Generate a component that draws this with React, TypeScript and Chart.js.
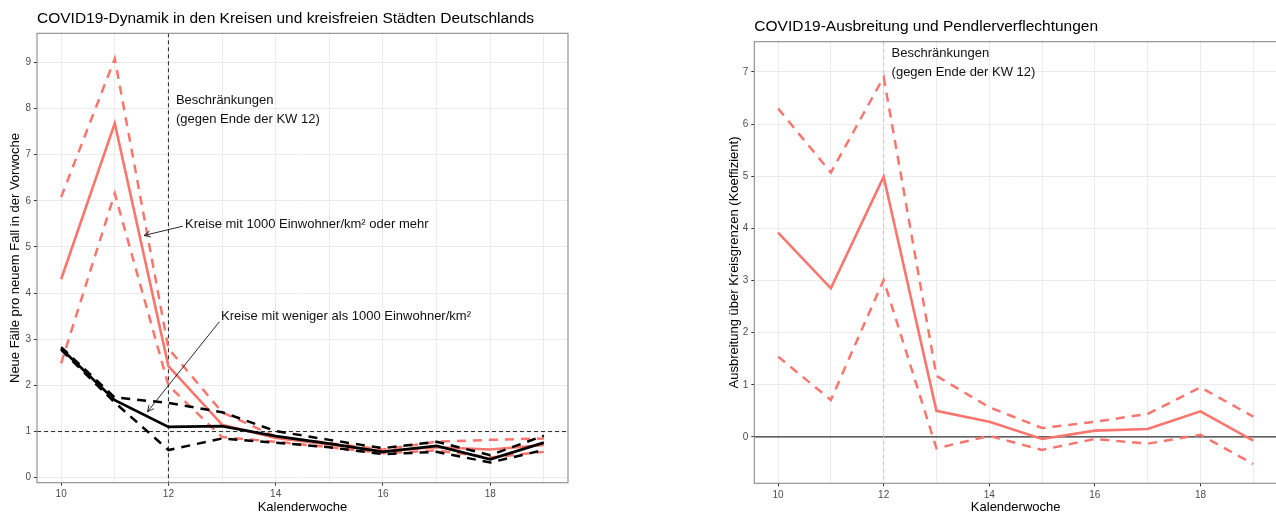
import React, { useEffect, useRef } from "react";
import { Chart, registerables } from "chart.js";

Chart.register(...registerables);

// ---------------- data ----------------
const weeks = [10, 11, 12, 13, 14, 15, 16, 17, 18, 19];

// left panel: dense districts (>= 1000 inhabitants / km²)
const denseMean = [4.3, 7.68, 2.42, 1.15, 0.86, 0.72, 0.58, 0.66, 0.61, 0.71];
const denseUpper = [6.08, 9.08, 2.8, 1.42, 0.89, 0.75, 0.61, 0.78, 0.82, 0.85];
const denseLower = [2.48, 6.16, 2.0, 0.88, 0.78, 0.66, 0.53, 0.59, 0.44, 0.56];

// left panel: less dense districts (< 1000 inhabitants / km²)
const sparseMean = [2.8, 1.68, 1.1, 1.12, 0.9, 0.74, 0.56, 0.69, 0.4, 0.76];
const sparseUpper = [2.83, 1.74, 1.62, 1.42, 1.01, 0.82, 0.64, 0.78, 0.49, 0.91];
const sparseLower = [2.77, 1.63, 0.6, 0.85, 0.76, 0.66, 0.51, 0.56, 0.33, 0.6];

// right panel: spread across district borders (coefficient)
const spreadMean = [3.92, 2.85, 4.99, 0.5, 0.29, -0.04, 0.12, 0.15, 0.49, -0.07];
const spreadUpper = [6.3, 5.07, 6.9, 1.17, 0.57, 0.17, 0.29, 0.44, 0.95, 0.39];
const spreadLower = [1.54, 0.71, 3.01, -0.22, 0.02, -0.25, -0.04, -0.13, 0.04, -0.52];

const xGridValues = [10, 11, 12, 13, 14, 15, 16, 17, 18, 19];
const xTickLabels = [10, 12, 14, 16, 18];
const leftYTicks = [0, 1, 2, 3, 4, 5, 6, 7, 8, 9];
const rightYTicks = [0, 1, 2, 3, 4, 5, 6, 7];

const leftTitle = "COVID19-Dynamik in den Kreisen und kreisfreien Städten Deutschlands";
const rightTitle = "COVID19-Ausbreitung und Pendlerverflechtungen";
const xTitle = "Kalenderwoche";
const leftYTitle = "Neue Fälle pro neuem Fall in der Vorwoche";
const rightYTitle = "Ausbreitung über Kreisgrenzen (Koeffizient)";
const restrictionText = ["Beschränkungen", "(gegen Ende der KW 12)"];
const denseLabel = "Kreise mit 1000 Einwohner/km² oder mehr";
const sparseLabel = "Kreise mit weniger als 1000 Einwohner/km²";

// ---------------- styles ----------------
const FONT = "'Liberation Sans', Arial, Helvetica, sans-serif";
const RED = "#F8766D";
const BLACK = "#000000";
const GRID = "#ebebeb";
const DASH = [9, 7];

const pts = (vals: number[]) => vals.map((v, i) => ({ x: weeks[i], y: v }));

type Ann = {
  title: string;
  vline: { x: number; color: string; dash: number[]; width: number };
  hline: { y: number; color: string; dash: number[]; width: number };
  texts: { x: number; y: number; text: string }[];
  arrows: { x0: number; y0: number; x1: number; y1: number }[];
};

function decorPlugin(ann: Ann) {
  return {
    id: "decor",
    beforeDatasetsDraw(chart: any) {
      const { ctx, chartArea: a, scales } = chart;
      const xs = scales.x;
      const ys = scales.y;
      ctx.save();
      ctx.beginPath();
      ctx.rect(a.left, a.top, a.right - a.left, a.bottom - a.top);
      ctx.clip();
      // horizontal reference
      ctx.strokeStyle = ann.hline.color;
      ctx.lineWidth = ann.hline.width;
      ctx.setLineDash(ann.hline.dash);
      const hy = ys.getPixelForValue(ann.hline.y);
      ctx.beginPath();
      ctx.moveTo(a.left, hy);
      ctx.lineTo(a.right, hy);
      ctx.stroke();
      // vertical reference
      ctx.strokeStyle = ann.vline.color;
      ctx.lineWidth = ann.vline.width;
      ctx.setLineDash(ann.vline.dash);
      const vx = xs.getPixelForValue(ann.vline.x);
      ctx.beginPath();
      ctx.moveTo(vx, a.top);
      ctx.lineTo(vx, a.bottom);
      ctx.stroke();
      ctx.restore();
    },
    afterDatasetsDraw(chart: any) {
      const { ctx, chartArea: a, scales } = chart;
      const xs = scales.x;
      const ys = scales.y;
      ctx.save();
      // panel border
      ctx.setLineDash([]);
      ctx.strokeStyle = "#8a8a8a";
      ctx.lineWidth = 1.1;
      ctx.strokeRect(a.left, a.top, a.right - a.left, a.bottom - a.top);
      // texts
      ctx.fillStyle = "#111";
      ctx.font = `13px ${FONT}`;
      ctx.textAlign = "left";
      ctx.textBaseline = "middle";
      ann.texts.forEach((t) => {
        ctx.fillText(t.text, xs.getPixelForValue(t.x), ys.getPixelForValue(t.y));
      });
      // arrows
      ctx.strokeStyle = "#111";
      ctx.lineWidth = 0.9;
      ann.arrows.forEach((ar) => {
        const x0 = xs.getPixelForValue(ar.x0);
        const y0 = ys.getPixelForValue(ar.y0);
        const x1 = xs.getPixelForValue(ar.x1);
        const y1 = ys.getPixelForValue(ar.y1);
        ctx.beginPath();
        ctx.moveTo(x0, y0);
        ctx.lineTo(x1, y1);
        ctx.stroke();
        const ang = Math.atan2(y1 - y0, x1 - x0);
        const L = 7;
        ctx.beginPath();
        ctx.moveTo(x1 - L * Math.cos(ang - 0.45), y1 - L * Math.sin(ang - 0.45));
        ctx.lineTo(x1, y1);
        ctx.lineTo(x1 - L * Math.cos(ang + 0.45), y1 - L * Math.sin(ang + 0.45));
        ctx.stroke();
      });
      // title
      ctx.fillStyle = "#000";
      ctx.font = `15.5px ${FONT}`;
      ctx.textBaseline = "middle";
      ctx.fillText(ann.title, a.left, a.top - 14.5);
      ctx.restore();
    },
  };
}

function makeConfig(opts: {
  datasets: any[];
  yMin: number;
  yMax: number;
  yTicks: number[];
  yTitle: string;
  yTitlePad: number;
  padding: { top: number; right: number; left: number; bottom: number };
  xAxisHeight: number;
  ann: Ann;
}) {
  const tickFont = { family: FONT, size: 10 };
  return {
    type: "line" as const,
    data: { datasets: opts.datasets },
    options: {
      animation: false as const,
      responsive: false,
      maintainAspectRatio: false,
      layout: { padding: opts.padding },
      plugins: { legend: { display: false }, tooltip: { enabled: false }, title: { display: false } },
      elements: { point: { radius: 0 }, line: { tension: 0 } },
      scales: {
        x: {
          type: "linear" as const,
          min: 9.55,
          max: 19.45,
          afterBuildTicks: (axis: any) => {
            axis.ticks = xGridValues.map((v) => ({ value: v }));
          },
          afterFit: (axis: any) => {
            axis.height = opts.xAxisHeight;
          },
          ticks: {
            autoSkip: false,
            maxRotation: 0,
            padding: 3,
            color: "#4d4d4d",
            font: tickFont,
            callback: (v: any) => (xTickLabels.includes(Number(v)) ? String(v) : ""),
          },
          grid: {
            color: GRID,
            lineWidth: 1,
            tickLength: 3,
            tickColor: (c: any) =>
              c.tick && xTickLabels.includes(c.tick.value) ? "#333" : "rgba(0,0,0,0)",
          },
          border: { display: false },
          title: {
            display: true,
            text: xTitle,
            color: "#000",
            font: { family: FONT, size: 13 },
            padding: { top: 0, bottom: 1 },
          },
        },
        y: {
          type: "linear" as const,
          min: opts.yMin,
          max: opts.yMax,
          afterBuildTicks: (axis: any) => {
            axis.ticks = opts.yTicks.map((v) => ({ value: v }));
          },
          afterFit: (axis: any) => {
            axis.width = 37;
          },
          ticks: { padding: 3, color: "#4d4d4d", font: tickFont },
          grid: { color: GRID, lineWidth: 1, tickLength: 3, tickColor: "#333" },
          border: { display: false },
          title: {
            display: true,
            text: opts.yTitle,
            color: "#000",
            font: { family: FONT, size: 13 },
            padding: { top: opts.yTitlePad, bottom: 0 },
          },
        },
      },
    },
    plugins: [decorPlugin(opts.ann)],
  };
}

const line = (vals: number[], color: string, dashed: boolean, width: number, order: number) => ({
  data: pts(vals),
  borderColor: color,
  backgroundColor: color,
  borderWidth: width,
  borderDash: dashed ? DASH : [],
  fill: false,
  pointRadius: 0,
  order,
});

export default function App() {
  const leftRef = useRef<HTMLCanvasElement | null>(null);
  const rightRef = useRef<HTMLCanvasElement | null>(null);

  useEffect(() => {
    document.body.style.margin = "0";
    const left = new Chart(
      leftRef.current as HTMLCanvasElement,
      makeConfig({
        datasets: [
          line(sparseMean, BLACK, false, 2.8, 1),
          line(sparseUpper, BLACK, true, 2.5, 2),
          line(sparseLower, BLACK, true, 2.5, 3),
          line(denseMean, RED, false, 2.6, 4),
          line(denseUpper, RED, true, 2.5, 5),
          line(denseLower, RED, true, 2.5, 6),
        ],
        yMin: -0.108,
        yMax: 9.63,
        yTicks: leftYTicks,
        yTitle: leftYTitle,
        yTitlePad: 7.5,
        padding: { top: 33.3, right: 72, left: 0, bottom: 0 },
        xAxisHeight: 33.3,
        ann: {
          title: leftTitle,
          vline: { x: 12, color: "#222", dash: [4, 3], width: 1 },
          hline: { y: 1, color: "#222", dash: [4, 3], width: 1 },
          texts: [
            { x: 12.14, y: 8.18, text: restrictionText[0] },
            { x: 12.14, y: 7.77, text: restrictionText[1] },
            { x: 12.31, y: 5.49, text: denseLabel },
            { x: 12.98, y: 3.49, text: sparseLabel },
          ],
          arrows: [
            { x0: 12.268, y0: 5.45, x1: 11.547, y1: 5.25 },
            { x0: 12.95, y0: 3.38, x1: 11.61, y1: 1.43 },
          ],
        },
      }) as any
    );
    const right = new Chart(
      rightRef.current as HTMLCanvasElement,
      makeConfig({
        datasets: [
          line(spreadMean, RED, false, 2.6, 1),
          line(spreadUpper, RED, true, 2.5, 2),
          line(spreadLower, RED, true, 2.5, 3),
        ],
        yMin: -0.89,
        yMax: 7.58,
        yTicks: rightYTicks,
        yTitle: rightYTitle,
        yTitlePad: 8.9,
        padding: { top: 41.7, right: 0, left: 77.3, bottom: 0 },
        xAxisHeight: 32.7,
        ann: {
          title: rightTitle,
          vline: { x: 12, color: "#c4c4c4", dash: [4, 3], width: 1 },
          hline: { y: 0, color: "#333", dash: [], width: 1.2 },
          texts: [
            { x: 12.15, y: 7.36, text: restrictionText[0] },
            { x: 12.15, y: 7.0, text: restrictionText[1] },
          ],
          arrows: [],
        },
      }) as any
    );
    return () => {
      left.destroy();
      right.destroy();
    };
  }, []);

  return (
    <div
      style={{
        position: "absolute",
        left: 0,
        top: 0,
        width: 1276,
        height: 516,
        overflow: "hidden",
        background: "#fff",
      }}
    >
      <canvas
        ref={leftRef}
        width={640}
        height={516}
        style={{ position: "absolute", left: 0, top: 0, width: 640, height: 516 }}
      />
      <canvas
        ref={rightRef}
        width={637}
        height={516}
        style={{ position: "absolute", left: 640, top: 0, width: 637, height: 516 }}
      />
    </div>
  );
}
